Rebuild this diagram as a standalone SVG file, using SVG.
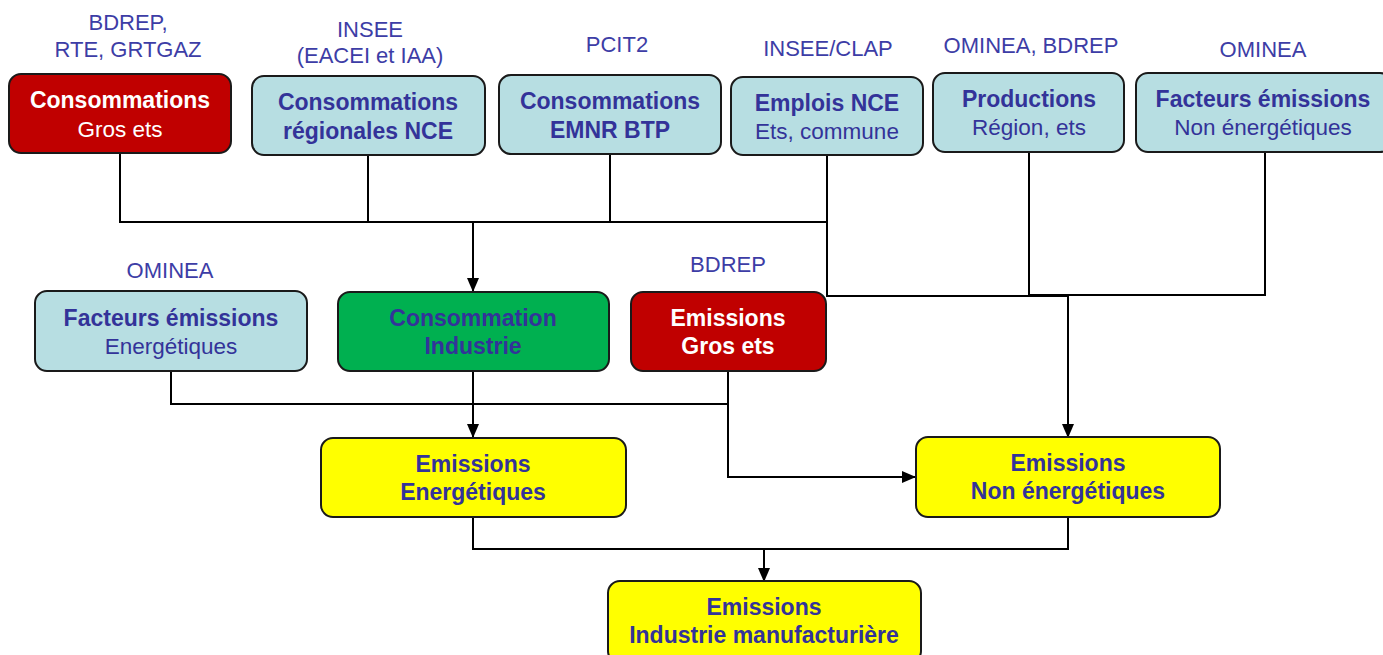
<svg xmlns="http://www.w3.org/2000/svg" width="1383" height="655" viewBox="0 0 1383 655">
  <style>
    .box { stroke: #1a1a1a; stroke-width: 2; }
    .red { fill: #C00000; }
    .blue { fill: #B7DEE2; }
    .green { fill: #00B050; }
    .yellow { fill: #FFFF00; }
    text { font-family: "Liberation Sans", Arial, sans-serif; text-anchor: middle; }
    .b { font-size: 23px; font-weight: bold; fill: #333399; }
    .r { font-size: 22.5px; fill: #333399; }
    .w { fill: #FFFFFF; }
    .src { font-size: 22px; fill: #3D3DA6; }
    .wire { fill: none; stroke: #000; stroke-width: 2; }
    .arrow { fill: none; stroke: #000; stroke-width: 2; marker-end: url(#head); }
  </style>
  <defs>
    <marker id="head" viewBox="0 0 14 12" refX="13" refY="6" markerWidth="14" markerHeight="12" markerUnits="userSpaceOnUse" orient="auto">
      <path d="M0 0 L14 6 L0 12 Z" fill="#000"/>
    </marker>
  </defs>

  <rect width="1383" height="655" fill="#FFFFFF"/>

  <!-- connectors -->
  <g id="connectors">
    <path class="wire" d="M120 153 V222 H827"/>
    <path class="wire" d="M368 155 V222"/>
    <path class="wire" d="M610 154 V222"/>
    <path class="wire" d="M827 155 V296 H1068"/>
    <path class="wire" d="M1029 152 V295 H1265 V152"/>
    <path class="arrow" d="M473 222 V291"/>
    <path class="arrow" d="M1068 295 V437"/>
    <path class="wire" d="M171 371 V404 H728"/>
    <path class="arrow" d="M728 371 V477 H915"/>
    <path class="arrow" d="M473 371 V437"/>
    <path class="wire" d="M473 517 V549 H1068 V517"/>
    <path class="arrow" d="M764 549 V581"/>
  </g>

  <!-- top row -->
  <g id="conso-gros-ets">
    <text class="src" x="128" y="30">BDREP,</text>
    <text class="src" x="128" y="57">RTE, GRTGAZ</text>
    <rect class="box red" x="9" y="74" width="222" height="79" rx="12"/>
    <text class="b w" x="120" y="108">Consommations</text>
    <text class="r w" x="120" y="137">Gros ets</text>
  </g>

  <g id="conso-regionales">
    <text class="src" x="370" y="37">INSEE</text>
    <text class="src" x="370" y="63">(EACEI et IAA)</text>
    <rect class="box blue" x="252" y="76" width="233" height="79" rx="12"/>
    <text class="b" x="368" y="110">Consommations</text>
    <text class="b" x="368" y="139">régionales NCE</text>
  </g>

  <g id="conso-emnr">
    <text class="src" x="617" y="52">PCIT2</text>
    <rect class="box blue" x="499" y="75" width="222" height="79" rx="12"/>
    <text class="b" x="610" y="109">Consommations</text>
    <text class="b" x="610" y="138">EMNR BTP</text>
  </g>

  <g id="emplois-nce">
    <text class="src" x="828" y="56">INSEE/CLAP</text>
    <rect class="box blue" x="731" y="77" width="192" height="78" rx="12"/>
    <text class="b" x="827" y="111">Emplois NCE</text>
    <text class="r" x="827" y="139">Ets, commune</text>
  </g>

  <g id="productions">
    <text class="src" x="1031" y="53">OMINEA, BDREP</text>
    <rect class="box blue" x="933" y="73" width="191" height="79" rx="12"/>
    <text class="b" x="1029" y="107">Productions</text>
    <text class="r" x="1029" y="135">Région, ets</text>
  </g>

  <g id="facteurs-non-energetiques">
    <text class="src" x="1263" y="57">OMINEA</text>
    <rect class="box blue" x="1136" y="73" width="256" height="79" rx="12"/>
    <text class="b" x="1263" y="107">Facteurs émissions</text>
    <text class="r" x="1263" y="135">Non énergétiques</text>
  </g>

  <!-- middle row -->
  <g id="facteurs-energetiques">
    <text class="src" x="170" y="278">OMINEA</text>
    <rect class="box blue" x="35" y="291" width="272" height="80" rx="12"/>
    <text class="b" x="171" y="326">Facteurs émissions</text>
    <text class="r" x="171" y="354">Energétiques</text>
  </g>

  <g id="conso-industrie">
    <rect class="box green" x="338" y="292" width="271" height="79" rx="12"/>
    <text class="b" x="473" y="326">Consommation</text>
    <text class="b" x="473" y="354">Industrie</text>
  </g>

  <g id="emissions-gros-ets">
    <text class="src" x="728" y="272">BDREP</text>
    <rect class="box red" x="631" y="292" width="195" height="79" rx="12"/>
    <text class="b w" x="728" y="326">Emissions</text>
    <text class="b w" x="728" y="354">Gros ets</text>
  </g>

  <!-- bottom rows -->
  <g id="emissions-energetiques">
    <rect class="box yellow" x="321" y="438" width="305" height="79" rx="12"/>
    <text class="b" x="473" y="472">Emissions</text>
    <text class="b" x="473" y="500">Energétiques</text>
  </g>

  <g id="emissions-non-energetiques">
    <rect class="box yellow" x="916" y="437" width="304" height="80" rx="12"/>
    <text class="b" x="1068" y="471">Emissions</text>
    <text class="b" x="1068" y="499">Non énergétiques</text>
  </g>

  <g id="emissions-industrie">
    <rect class="box yellow" x="608" y="581" width="313" height="82" rx="12"/>
    <text class="b" x="764" y="615">Emissions</text>
    <text class="b" x="764" y="643">Industrie manufacturière</text>
  </g>
</svg>
